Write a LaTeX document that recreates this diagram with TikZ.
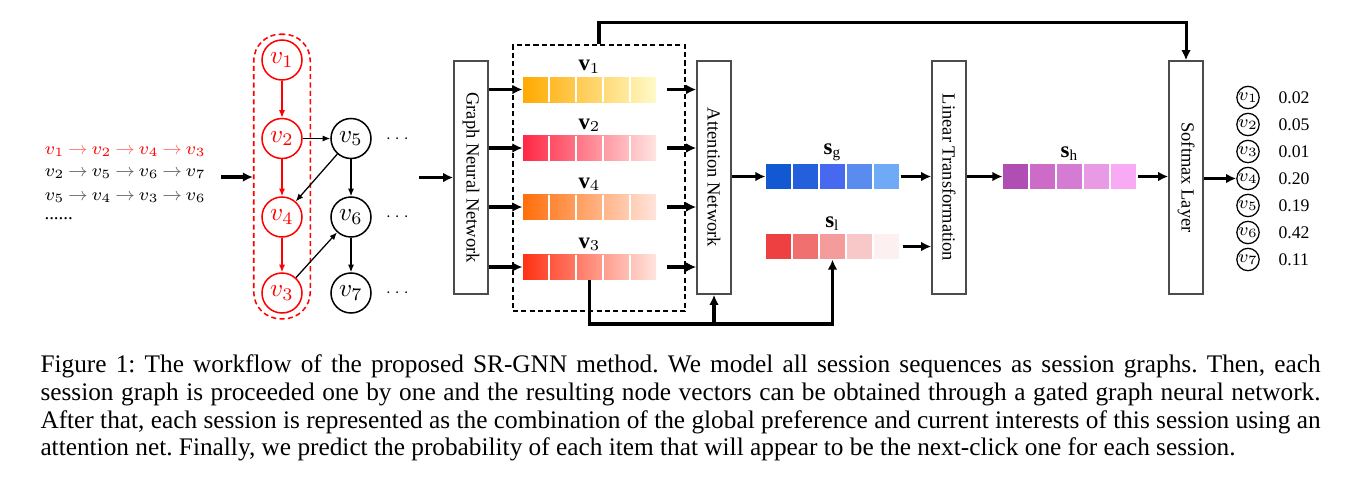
\documentclass[tikz,border=0pt]{standalone}
\usepackage{fontspec}
\setmainfont{Liberation Serif}
\usepackage{amsmath}
\usepackage{graphicx}
\usepackage{xcolor}
\usetikzlibrary{arrows.meta,positioning,calc,fit}

\newcommand{\px}{0.3952pt}
\newcommand{\seqto}[1]{\mskip3mu{\textcolor{#1}{\rightarrow}}\mskip3mu}

\definecolor{vonea}{RGB}{255,170,0}
\definecolor{voneb}{RGB}{255,250,200}
\definecolor{vtwoa}{RGB}{255,40,70}
\definecolor{vtwob}{RGB}{255,228,225}
\definecolor{vfoura}{RGB}{255,110,10}
\definecolor{vfourb}{RGB}{255,228,220}
\definecolor{vthreea}{RGB}{255,50,20}
\definecolor{vthreeb}{RGB}{255,228,222}
\definecolor{sg1}{RGB}{18,88,210}
\definecolor{sg2}{RGB}{36,96,220}
\definecolor{sg3}{RGB}{70,105,240}
\definecolor{sg4}{RGB}{90,140,240}
\definecolor{sg5}{RGB}{110,170,245}
\definecolor{sl1}{RGB}{238,64,64}
\definecolor{sl2}{RGB}{240,112,112}
\definecolor{sl3}{RGB}{244,155,155}
\definecolor{sl4}{RGB}{248,200,200}
\definecolor{sl5}{RGB}{253,240,240}
\definecolor{sh1}{RGB}{176,78,180}
\definecolor{sh2}{RGB}{204,108,200}
\definecolor{sh3}{RGB}{212,124,212}
\definecolor{sh4}{RGB}{232,154,228}
\definecolor{sh5}{RGB}{248,170,244}

\begin{document}
\begin{tikzpicture}[
    x=\px, y=-\px,
    gnode/.style={circle, draw, line width=0.6pt, minimum size=40*\px, inner sep=0pt,
      font=\fontsize{10}{12}\selectfont},
    onode/.style={circle, draw, line width=0.5pt, minimum size=20*\px, inner sep=0pt,
      font=\fontsize{7}{8}\selectfont},
    garr/.style={-{Latex[length=3pt,width=2.4pt]}, line width=0.5pt},
    arr/.style={-{Latex[length=4pt,width=3.8pt]}, line width=1.2pt},
    blk/.style={draw=black!70, line width=0.6pt, fill=white, minimum width=34*\px,
      minimum height=233*\px, inner sep=0pt, font=\fontsize{7.3}{8}\selectfont},
    bar/.style={minimum width=133*\px, minimum height=25*\px, inner sep=0pt},
    cellbar/.style={bar, path picture={
        \foreach \k in {1,...,4}
          \draw[white, line width=2*\px]
            ([xshift=(27*\k-1)*\px]path picture bounding box.north west) --
            ([xshift=(27*\k-1)*\px]path picture bounding box.south west);}},
    lab/.style={inner sep=1pt, font=\fontsize{9}{10}\selectfont},
    seq/.style={anchor=base west, inner sep=0pt, font=\fontsize{7.5}{9}\selectfont},
    dots/.style={font=\fontsize{6}{7}\selectfont},
    val/.style={anchor=west, inner sep=0pt, font=\fontsize{7}{8}\selectfont}
  ]
    \useasboundingbox (0,0) rectangle (1372,488);

    % session sequences
    \node[seq, text=red] (s1) at (44,154)
      {$v_1\seqto{red!55}v_2\seqto{red!55}v_4\seqto{red!55}v_3$};
    \node[seq] (s2) at (44,176)
      {$v_2\seqto{black!60}v_5\seqto{black!60}v_6\seqto{black!60}v_7$};
    \node[seq] (s3) at (44,200)
      {$v_5\seqto{black!60}v_4\seqto{black!60}v_3\seqto{black!60}v_6$};
    \node[seq] (s4) at (44,219) {......};

    % session graph
    \node[gnode, red] (g1) at (282,60) {$v_1$};
    \node[gnode, red] (g2) at (282,138.5) {$v_2$};
    \node[gnode, red] (g4) at (282,217) {$v_4$};
    \node[gnode, red] (g3) at (282,293) {$v_3$};
    \node[gnode] (g5) at (351,138.5) {$v_5$};
    \node[gnode] (g6) at (351,217) {$v_6$};
    \node[gnode] (g7) at (351,293) {$v_7$};
    \node[dots] (d5) at (399,138.5) {$\cdots$};
    \node[dots] (d6) at (399,217) {$\cdots$};
    \node[dots] (d7) at (399,293) {$\cdots$};
    \node[draw=red, line width=0.6pt, dash pattern=on 2pt off 1.3pt, rounded corners=10.5pt,
      fit=(g1)(g3), inner xsep=7.5*\px, inner ysep=5*\px] (grp) {};
    \draw[garr, red] (g1) -- (g2);
    \draw[garr, red] (g2) -- (g4);
    \draw[garr, red] (g4) -- (g3);
    \draw[garr] (g2) -- (g5);
    \draw[garr] (g5) -- (g4);
    \draw[garr] (g5) -- (g6);
    \draw[garr] (g6) -- (g7);
    \draw[garr] (g3) -- (g6);

    \coordinate (seqout) at (221,177);
    \coordinate (grpout) at (419,177.5);
    \draw[arr] (seqout) -- (grp.west |- seqout);

    % blocks
    \node[blk] (gnn) at (471,177.5) {\rotatebox{-90}{Graph Neural Network}};
    \node[blk] (att) at (714,177.5) {\rotatebox{-90}{Attention Network}};
    \node[blk] (lin) at (949,177.5) {\rotatebox{-90}{Linear Transformation}};
    \node[blk] (soft) at (1186,177.5) {\rotatebox{-90}{Softmax Layer}};
    \draw[arr] (grpout) -- (gnn.west |- grpout);

    % node vectors
    \node[draw, line width=0.5pt, dash pattern=on 2pt off 1.3pt, minimum width=172*\px,
      minimum height=266*\px] (dash) at (599,178) {};
    \node[cellbar, left color=vonea, right color=voneb] (bv1) at (589.5,89.5) {};
    \node[cellbar, left color=vtwoa, right color=vtwob] (bv2) at (589.5,148) {};
    \node[cellbar, left color=vfoura, right color=vfourb] (bv4) at (589.5,207) {};
    \node[cellbar, left color=vthreea, right color=vthreeb] (bv3) at (589.5,267) {};
    \node[lab, above=0pt of bv1] (lv1) {$\mathbf{v}_1$};
    \node[lab, above=0pt of bv2] (lv2) {$\mathbf{v}_2$};
    \node[lab, above=0pt of bv4] (lv4) {$\mathbf{v}_4$};
    \node[lab, above=0pt of bv3] (lv3) {$\mathbf{v}_3$};
    \foreach \b in {bv1,bv2,bv4,bv3} {
      \draw[arr] (gnn.east |- \b) -- (\b.west);
      \draw[arr] ([xshift=10*\px]\b.east) -- (att.west |- \b);
    }

    % session embeddings
    \node[bar] (sg) at (832.5,176.5) {};
    \node[bar] (sl) at (832.5,246.5) {};
    \node[bar] (sh) at (1069.5,176.5) {};
    \foreach \c [count=\k from 0] in {sg1,sg2,sg3,sg4,sg5} {
      \fill[\c] ([xshift=27*\k*\px]sg.north west) rectangle ++(25,25);
    }
    \foreach \c [count=\k from 0] in {sl1,sl2,sl3,sl4,sl5} {
      \fill[\c] ([xshift=27*\k*\px]sl.north west) rectangle ++(25,25);
    }
    \foreach \c [count=\k from 0] in {sh1,sh2,sh3,sh4,sh5} {
      \fill[\c] ([xshift=27*\k*\px]sh.north west) rectangle ++(25,25);
    }
    \node[lab, above=0pt of sg] (lsg) {$\mathbf{s}_\mathrm{g}$};
    \node[lab, above=0pt of sl] (lsl) {$\mathbf{s}_\mathrm{l}$};
    \node[lab, above=0pt of sh] (lsh) {$\mathbf{s}_\mathrm{h}$};

    \draw[arr] (att.east |- sg) -- (sg.west);
    \draw[arr] ([xshift=1*\px]sg.east) -- (lin.west |- sg);
    \draw[arr] ([xshift=3*\px]sl.east) -- (lin.west |- sl);
    \draw[arr] (lin.east |- sh) -- (sh.west);
    \draw[arr] ([xshift=1*\px]sh.east) -- (soft.west |- sh);

    % skip connections
    \draw[arr] (dash.north) -- ++(0,-22) -| (soft.north);
    \coordinate (bus) at (bv3.south |- 0,324);
    \draw[arr] (bv3.south) -- (bus) -| (sl.south);
    \draw[arr] (att.south |- bus) -- (att.south);

    % scores
    \foreach \p [count=\k] in {0.02,0.05,0.01,0.20,0.19,0.42,0.11} {
      \node[onode] (o\k) at (1248,70.5+27*\k) {$v_\k$};
      \node[val] (p\k) at (1278,70.5+27*\k) {\p};
    }
    \draw[arr] (soft.east |- o4) -- (o4.west);

    % caption
    \node[anchor=north west, inner sep=0pt, text width=505.9pt, align=justify,
      font=\fontsize{10}{11}\selectfont\frenchspacing] (cap) at (40,354)
      {Figure 1: The workflow of the proposed SR-GNN method. We model all session sequences as session graphs. Then, each\linebreak
       session graph is proceeded one by one and the resulting node vectors can be obtained through a gated graph neural network.\linebreak
       After that, each session is represented as the combination of the global preference and current interests of this session using an\linebreak
       attention net. Finally, we predict the probability of each item that will appear to be the next-click one for each session.};
  \end{tikzpicture}
\end{document}
